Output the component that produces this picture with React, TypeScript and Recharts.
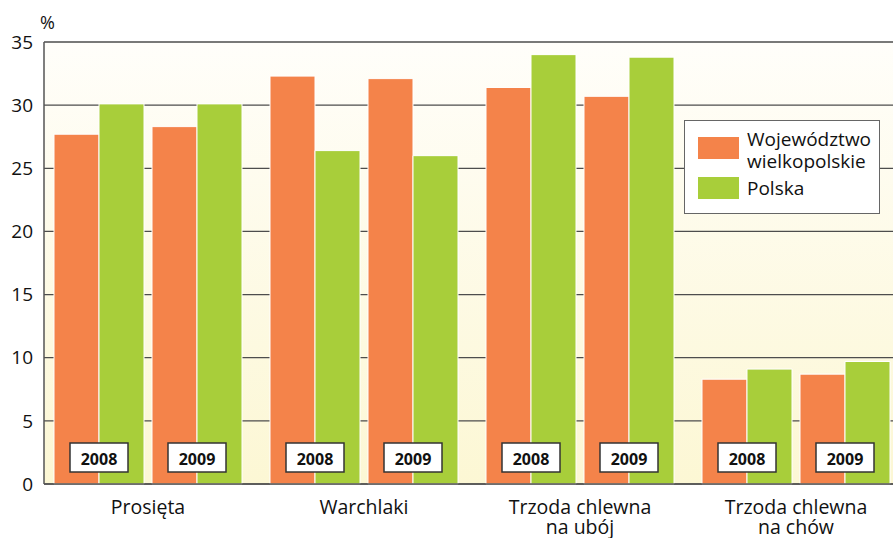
import React from 'react';
import { BarChart, Bar, XAxis, YAxis, CartesianGrid, Legend, LabelList } from 'recharts';

// data (%)
const categories = ['Prosięta', 'Warchlaki', 'Trzoda chlewna\nna ubój', 'Trzoda chlewna\nna chów'];
const years = ['2008', '2009'];
const wielkopolskie2008 = [27.7, 32.3, 31.4, 8.3];
const polska2008 = [30.1, 26.4, 34.0, 9.1];
const wielkopolskie2009 = [28.3, 32.1, 30.7, 8.7];
const polska2009 = [30.1, 26.0, 33.8, 9.7];
const spacer = [0, 0, 0, 0];
const yTicks = [0, 5, 10, 15, 20, 25, 30, 35];
const seriesNames = ['Województwo\nwielkopolskie', 'Polska'];

const ORANGE = '#F4834A';
const GREEN = '#A8CE3A';
const FONT = '"Open Sans", sans-serif';

const data = categories.map((name, i) => ({
    name,
    w2008: wielkopolskie2008[i],
    p2008: polska2008[i],
    gap: spacer[i],
    w2009: wielkopolskie2009[i],
    p2009: polska2009[i],
}));

// year box sitting on the join of the orange/green pair
const yearLabel = (year: string) => (props: any) => {
    const vb = props.viewBox || props;
    const cx = vb.x + vb.width;
    const bottom = vb.y + vb.height;
    return (
        <g>
            <rect x={cx - 29} y={bottom - 41} width={58} height={29} fill="#fff" stroke="#333" strokeWidth={1.5} />
            <text x={cx} y={bottom - 19} textAnchor="middle" fontFamily={FONT} fontSize={16} fontWeight="bold" fill="#111">
                {year}
            </text>
        </g>
    );
};

const CategoryTick = (props: any) => {
    const { x, y, payload } = props;
    const lines = String(payload.value).split('\n');
    return (
        <g>
            {lines.map((line, i) => (
                <text key={i} x={x} y={y + 22 + i * 20} textAnchor="middle" fontFamily={FONT} fontSize={19.5} fill="#111">
                    {line}
                </text>
            ))}
        </g>
    );
};

const PercentLabel = (props: any) => {
    const vb = props.viewBox;
    return (
        <text x={vb.x + vb.width - 4} y={vb.y - 13} fontFamily={FONT} fontSize={18} fill="#111">%</text>
    );
};

const LegendBox = () => (
    <div style={{
        width: 196, height: 94, boxSizing: 'border-box', border: '1.5px solid #666', background: '#fff',
        position: 'relative', fontFamily: FONT, fontSize: 19, color: '#111', lineHeight: '22px'
    }}>
        <div style={{ position: 'absolute', left: 13, top: 16, width: 41, height: 22, background: ORANGE }} />
        <div style={{ position: 'absolute', left: 62, top: 7, whiteSpace: 'pre' }}>{seriesNames[0]}</div>
        <div style={{ position: 'absolute', left: 13, top: 56, width: 41, height: 22, background: GREEN }} />
        <div style={{ position: 'absolute', left: 62, top: 56, whiteSpace: 'pre' }}>{seriesNames[1]}</div>
    </div>
);

export default function App() {
    return (
        <div style={{ position: 'absolute', left: 0, top: 0, width: 893, height: 538, overflow: 'hidden', background: '#fff' }}>
            <svg width={0} height={0} style={{ position: 'absolute' }}>
                <defs>
                    <linearGradient id="plotBg" x1="0" y1="0" x2="0" y2="1">
                        <stop offset="0%" stopColor="#fffefa" />
                        <stop offset="100%" stopColor="#fcf7d4" />
                    </linearGradient>
                </defs>
            </svg>
            <BarChart width={904} height={538} data={data} barGap={0}
                margin={{ top: 42, right: 0, bottom: 0, left: 0 }}>
                <CartesianGrid vertical={false} stroke="#4d4d4d" strokeWidth={1.3} fill="url(#plotBg)" />
                <XAxis dataKey="name" height={54} interval={0} tickLine={false}
                    axisLine={{ stroke: '#555', strokeWidth: 1.5 }}
                    padding={{ left: -4, right: 0 }}
                    tick={<CategoryTick />} />
                <YAxis domain={[0, 35]} ticks={yTicks} interval={0} width={44} tickLine={false} tickMargin={5}
                    axisLine={{ stroke: '#555', strokeWidth: 1.5 }}
                    tick={{ fontSize: 19, fill: '#111', fontFamily: FONT }}
                    label={{ value: '%', content: PercentLabel }} />
                <Legend layout="horizontal" verticalAlign="middle" align="center" content={LegendBox}
                    wrapperStyle={{ left: 684, top: 120, width: 196, height: 94 }} />
                <Bar dataKey="w2008" name="Województwo wielkopolskie" fill={ORANGE} stroke="#fff" strokeWidth={1}
                    barSize={45} isAnimationActive={false}>
                    <LabelList dataKey="w2008" content={yearLabel(years[0])} />
                </Bar>
                <Bar dataKey="p2008" name="Polska" fill={GREEN} stroke="#fff" strokeWidth={1}
                    barSize={45} isAnimationActive={false} />
                <Bar dataKey="gap" fill="none" stroke="none" barSize={8} legendType="none" isAnimationActive={false} />
                <Bar dataKey="w2009" fill={ORANGE} stroke="#fff" strokeWidth={1} barSize={45}
                    legendType="none" isAnimationActive={false}>
                    <LabelList dataKey="w2009" content={yearLabel(years[1])} />
                </Bar>
                <Bar dataKey="p2009" fill={GREEN} stroke="#fff" strokeWidth={1} barSize={45}
                    legendType="none" isAnimationActive={false} />
            </BarChart>
        </div>
    );
}
